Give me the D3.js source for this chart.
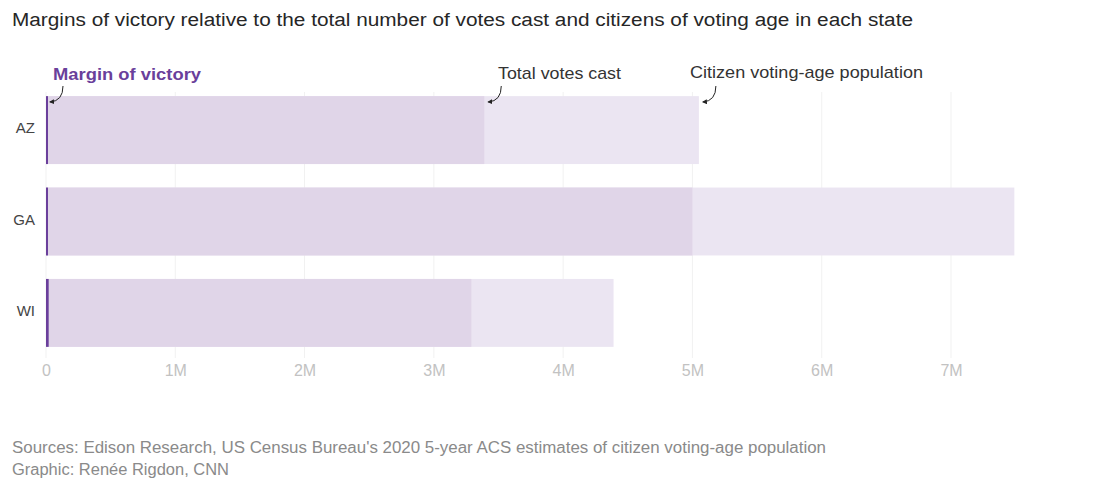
<!DOCTYPE html>
<html><head><meta charset="utf-8">
<script src="https://cdn.jsdelivr.net/npm/d3@7"></script>
<style>body{margin:0;background:#fff;font-family:"Liberation Sans",Arial,sans-serif;}</style>
</head><body><svg id="c" width="1110" height="499"></svg>
<script>
const states = ["AZ", "GA", "WI"];
const marginOfVictory = [10457, 11779, 20682];
const totalVotesCast = [3390000, 5000000, 3290000];
const citizenVotingAge = [5050000, 7490000, 4390000];
const tickValues = [0, 1e6, 2e6, 3e6, 4e6, 5e6, 6e6, 7e6];
const tickLabels = ["0", "1M", "2M", "3M", "4M", "5M", "6M", "7M"];

const svg = d3.select("#c");
const x = d3.scaleLinear().domain([0, 7e6]).range([46, 951]);
const y = d3.scaleBand().domain(states).range([87, 356]).paddingInner(0.257).paddingOuter(0.1);

svg.append("text").attr("x", 12).attr("y", 26).attr("font-size", 18).attr("fill", "#262626")
  .attr("textLength", 901).attr("lengthAdjust", "spacingAndGlyphs")
  .text("Margins of victory relative to the total number of votes cast and citizens of voting age in each state");

// gridlines
svg.append("g").selectAll("line").data(tickValues).join("line")
  .attr("x1", d => x(d)).attr("x2", d => x(d)).attr("y1", 92).attr("y2", 358)
  .attr("stroke", "#f1f1f1").attr("stroke-width", 1);

const data = states.map((s, i) => ({s, m: marginOfVictory[i], t: totalVotesCast[i], c: citizenVotingAge[i]}));
const g = svg.append("g");
g.selectAll(".cv").data(data).join("rect").attr("class", "cv")
  .attr("x", x(0)).attr("y", d => y(d.s)).attr("height", y.bandwidth())
  .attr("width", d => x(d.c) - x(0)).attr("fill", "#ebe5f2");
g.selectAll(".tv").data(data).join("rect").attr("class", "tv")
  .attr("x", x(0)).attr("y", d => y(d.s)).attr("height", y.bandwidth())
  .attr("width", d => x(d.t) - x(0)).attr("fill", "#e0d5e8");
g.selectAll(".mv").data(data).join("rect").attr("class", "mv")
  .attr("x", x(0)).attr("y", d => y(d.s)).attr("height", y.bandwidth())
  .attr("width", d => Math.max(2, x(d.m) - x(0))).attr("fill", "#6a3f9b");

// state labels
svg.append("g").selectAll("text").data(states).join("text")
  .attr("x", 35).attr("y", d => y(d) + y.bandwidth() / 2 + 3).attr("text-anchor", "end")
  .attr("font-size", 15).attr("fill", "#444").text(d => d);

// axis
const axis = d3.axisBottom(x).tickValues(tickValues).tickFormat((d, i) => tickLabels[i]).tickSize(0).tickPadding(0);
const ax = svg.append("g").attr("transform", "translate(0,365)").call(axis);
ax.select(".domain").remove();
ax.selectAll("text").attr("font-size", 16).attr("fill", "#c2c2c2").attr("dy", "0.71em")
  .attr("font-family", "'Liberation Sans',Arial,sans-serif");

// annotations
const defs = svg.append("defs");
defs.append("marker").attr("id", "ah").attr("viewBox", "0 0 10 10").attr("refX", 8).attr("refY", 5)
  .attr("markerWidth", 5).attr("markerHeight", 5).attr("orient", "auto")
  .append("path").attr("d", "M0,0L10,5L0,10z").attr("fill", "#222");

const first = data[0];
const ann = [
  {label: "Margin of victory", lx: 53, ly: 80, tx: x(0) + 3, bold: true, color: "#6a3f9b", size: 17, len: 148},
  {label: "Total votes cast", lx: 498, ly: 79, tx: x(first.t) + 3, bold: false, color: "#333", size: 17, len: 123},
  {label: "Citizen voting-age population", lx: 690, ly: 78, tx: x(first.c) + 3, bold: false, color: "#333", size: 17, len: 233}
];
svg.append("g").selectAll("text").data(ann).join("text")
  .attr("x", d => d.lx).attr("y", d => d.ly).attr("font-size", d => d.size)
  .attr("textLength", d => d.len).attr("lengthAdjust", "spacingAndGlyphs")
  .attr("font-weight", d => d.bold ? "bold" : "normal").attr("fill", d => d.color).text(d => d.label);
svg.append("g").selectAll("path").data(ann).join("path")
  .attr("d", d => `M${d.tx + 14},${86}Q${d.tx + 14},${101} ${d.tx + 1},${102}`)
  .attr("fill", "none").attr("stroke", "#222").attr("stroke-width", 1).attr("marker-end", "url(#ah)");

// footer
svg.append("text").attr("x", 12).attr("y", 453).attr("font-size", 16).attr("fill", "#8a8a8a")
  .attr("textLength", 814).attr("lengthAdjust", "spacingAndGlyphs")
  .text("Sources: Edison Research, US Census Bureau's 2020 5-year ACS estimates of citizen voting-age population");
svg.append("text").attr("x", 12).attr("y", 475).attr("font-size", 16).attr("fill", "#8a8a8a")
  .attr("textLength", 217).attr("lengthAdjust", "spacingAndGlyphs")
  .text("Graphic: Renée Rigdon, CNN");
</script></body></html>
